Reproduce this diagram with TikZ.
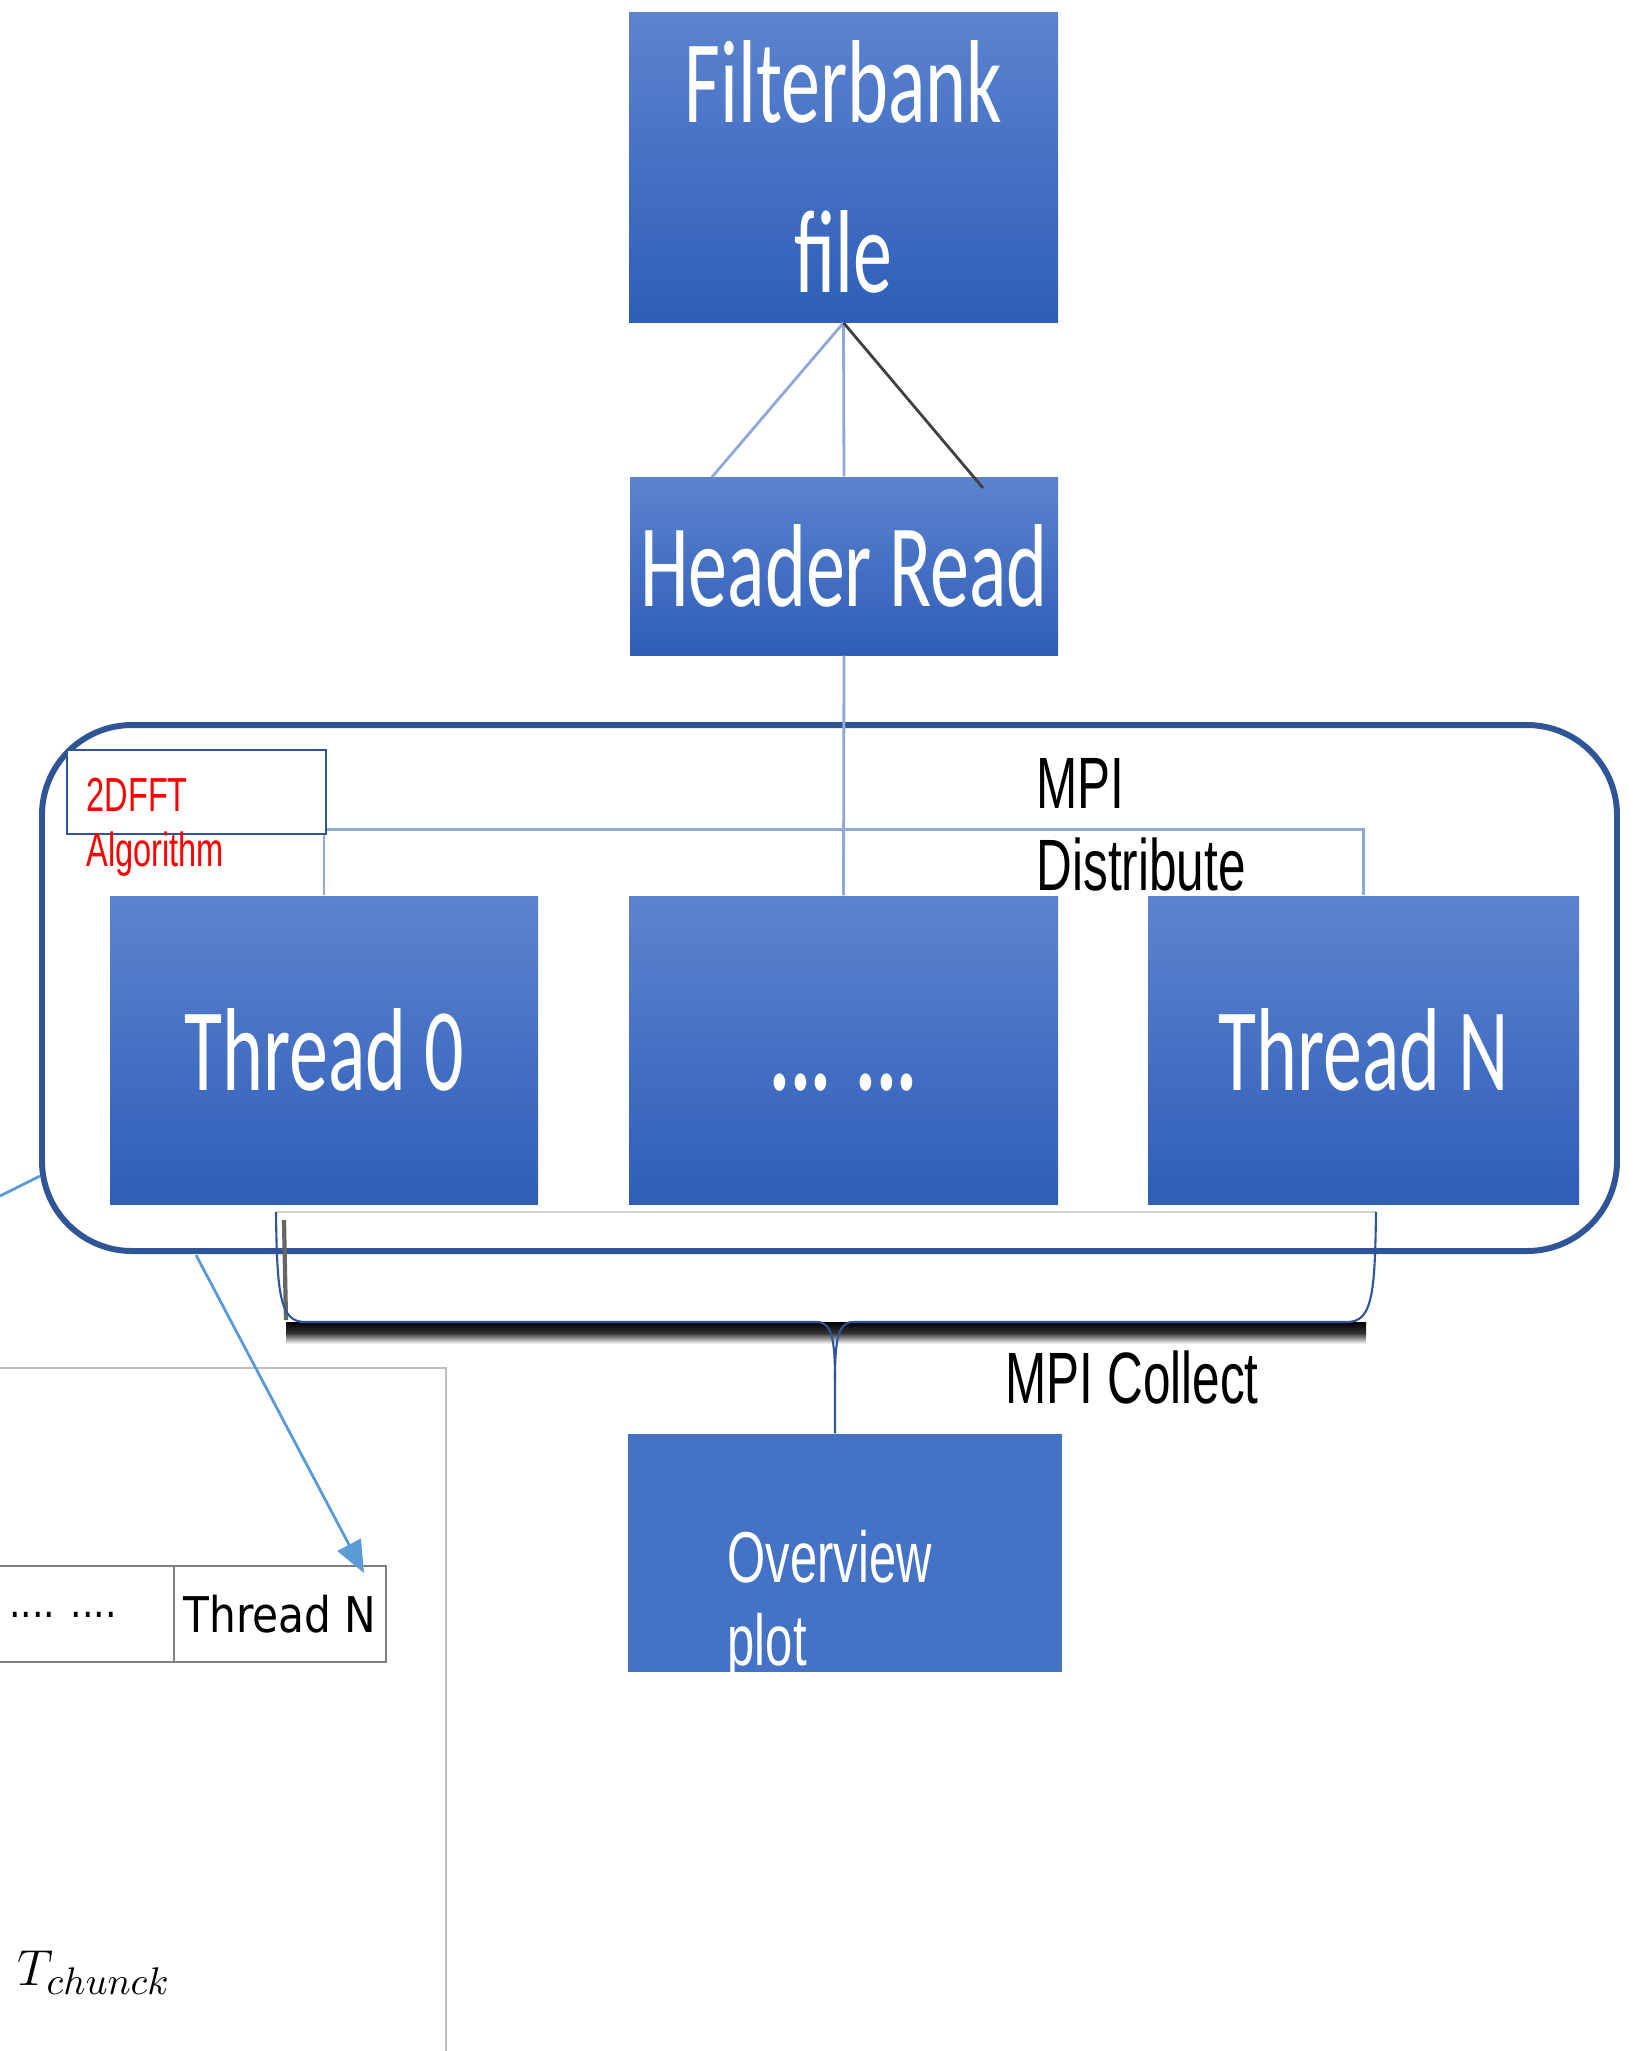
\documentclass[tikz,border=0pt]{standalone}
\usepackage{fontspec}
\usetikzlibrary{arrows.meta,calc}
\newfontfamily\boxfont[FakeStretch=0.66]{Carlito}
\newfontfamily\lblfont[FakeStretch=0.68]{Liberation Sans}
\newfontfamily\tabfont[FakeStretch=0.86]{DejaVu Sans}
\definecolor{boxtop}{RGB}{92,131,207}
\definecolor{boxbot}{RGB}{46,94,184}
\definecolor{ovblue}{RGB}{68,114,196}
\definecolor{mpiblue}{RGB}{47,85,151}
\definecolor{linkblue}{RGB}{143,168,216}
\definecolor{callblue}{RGB}{91,155,213}
\definecolor{fftred}{RGB}{255,0,0}

\begin{document}
\begin{tikzpicture}
	\tikzset{stage/.style={rectangle, inner sep=0pt, top color=boxtop, bottom color=boxbot, text=white, align=center, font=\boxfont\fontsize{33.6}{48.4}\selectfont}}
	\tikzset{linkb/.style={draw=linkblue, line width=0.8pt}}
	\tikzset{linkd/.style={draw=black!75, line width=0.8pt}}
	\tikzset{callout/.style={draw=callblue, line width=0.8pt}}
	\tikzset{mpilbl/.style={anchor=base west, inner sep=0pt, font=\lblfont\fontsize{20.7}{24}\selectfont}}
	\tikzset{fftlbl/.style={anchor=base west, inner sep=0pt, text=fftred, font=\lblfont\fontsize{13.6}{16}\selectfont}}
	\tikzset{ovlbl/.style={anchor=base west, inner sep=0pt, text=white, font=\lblfont\fontsize{20.5}{24}\selectfont}}
	\tikzset{cell/.style={rectangle, draw=black!50, line width=0.6pt, inner sep=0pt, minimum height=0.96cm, font=\tabfont\fontsize{14}{16}\selectfont}}

	\useasboundingbox (0,0) rectangle (16.39,-20.51);
	\clip (0,0) rectangle (16.39,-20.51);

	% MPI box
	\draw[draw=mpiblue, line width=1.7pt, rounded corners=0.9cm] (0.42,-7.25) rectangle (16.17,-12.51);

	\node[stage, minimum width=4.29cm, minimum height=3.10cm] (fb) at (8.435,-1.67) {Filterbank\\file};
	\node[stage, minimum width=4.28cm, minimum height=1.78cm] (hr) at (8.44,-5.66) {Header Read};
	\node[stage, minimum width=4.28cm, minimum height=3.08cm] (t0) at (3.24,-10.50) {Thread 0};
	\node[stage, minimum width=4.29cm, minimum height=3.08cm] (mid) at (8.435,-10.50) {\vphantom{Th}\bfseries... ...};
	\node[stage, minimum width=4.31cm, minimum height=3.08cm] (tN) at (13.635,-10.50) {Thread N};
	\node[rectangle, fill=ovblue, inner sep=0pt, minimum width=4.34cm, minimum height=2.38cm] (ov) at (8.45,-15.53) {};

	\coordinate (hrl) at (7.12,-4.77);
	\coordinate (hrr) at (9.83,-4.88);
	\draw[linkb] (fb.south) -- (hr.north);
	\draw[linkb] (fb.south) -- (hrl);
	\draw[linkd] (fb.south) -- (hrr);

	\draw[linkb] (hr.south) -- (mid.north);
	\draw[linkb] (t0.north) -- ++(0,0.66) -| (tN.north);

	\node[rectangle, draw=mpiblue, fill=white, line width=0.8pt, inner sep=0pt, minimum width=2.59cm, minimum height=0.84cm] (fft) at (1.965,-7.92) {};
	\node[fftlbl] (fft1) at (0.86,-8.11) {2DFFT};
	\node[fftlbl] (fft2) at (0.86,-8.66) {Algorithm};

	\node[mpilbl] (dist1) at (10.36,-8.08) {MPI};
	\node[mpilbl] (dist2) at (10.36,-8.90) {Distribute};

	% collect brace
	\coordinate (brtip) at (8.35,-13.22);
	\draw[gray!35, line width=0.6pt] (2.76,-12.12) -- (13.76,-12.12);
	\shade[top color=black, bottom color=white, middle color=black!80] (2.86,-13.22) rectangle (13.66,-13.44);
	\draw[draw=black!60, line width=1.2pt] (2.84,-12.2) -- (2.86,-13.2);
	\draw[draw=mpiblue, line width=0.6pt] (2.76,-12.12) .. controls (2.77,-12.95) and (2.80,-13.22) .. (3.05,-13.22) -- (8.17,-13.22) .. controls (8.32,-13.22) and (8.35,-13.4) .. (8.35,-13.8) -- (ov.north -| brtip);
	\draw[draw=mpiblue, line width=0.6pt] (13.76,-12.12) .. controls (13.75,-12.95) and (13.72,-13.22) .. (13.47,-13.22) -- (8.53,-13.22) .. controls (8.38,-13.22) and (8.35,-13.4) .. (8.35,-13.8);
	\node[mpilbl] (coll) at (10.05,-14.03) {MPI Collect};

	\node[ovlbl] (ov1) at (7.27,-15.82) {Overview};
	\node[ovlbl] (ov2) at (7.27,-16.65) {plot};

	% zoomed panel
	\draw[draw=black!25, line width=0.6pt] (0,-13.68) -| (4.46,-20.6);
	\node[cell, minimum width=2.22cm] (tabd) at (0.63,-16.14) {\vphantom{Th}\raisebox{0.3em}{\fontsize{12}{14}\selectfont.... ....}};
	\node[cell, minimum width=2.12cm] (tabn) at (2.80,-16.14) {Thread N};
	\node[anchor=base west, inner sep=0pt, font=\fontsize{15.5}{18}\selectfont] (tch) at (0.17,-19.85) {$T_{chunck}$};

	\coordinate (zsrc) at (1.96,-12.55);
	\coordinate (ztip) at (3.64,-15.73);
	\coordinate (zleft) at (0,-11.96);
	\coordinate (zjoin) at (0.40,-11.76);
	\draw[callout, -{Triangle[length=0.32cm,width=0.26cm]}] (zsrc) -- (ztip);
	\draw[callout] (zleft) -- (zjoin);
\end{tikzpicture}
\end{document}
